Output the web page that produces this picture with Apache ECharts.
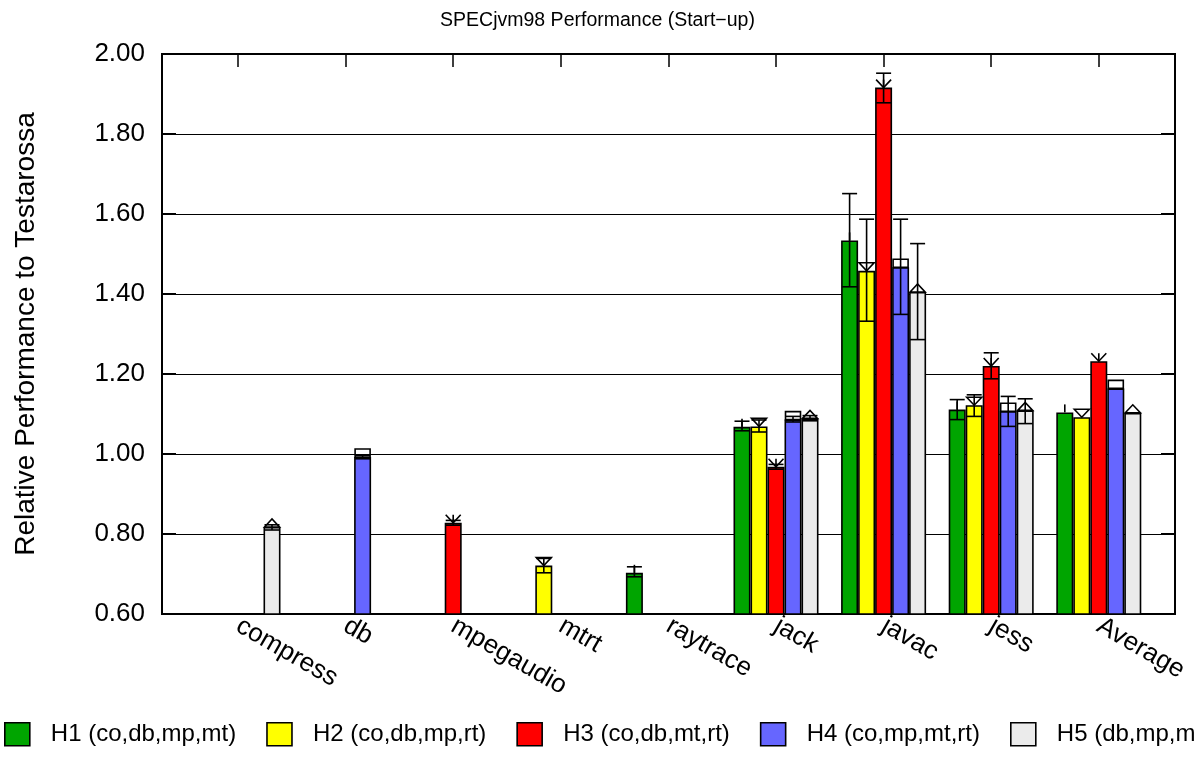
<!DOCTYPE html>
<html>
<head>
<meta charset="utf-8">
<script src="https://cdn.jsdelivr.net/npm/echarts@6/dist/echarts.min.js"></script>
<style>
html,body{margin:0;padding:0;background:#fff;}
#chart{width:1195px;height:758px;}
</style>
</head>
<body>
<div id="chart"></div>
<script>
var categories = ['compress','db','mpegaudio','mtrt','raytrace','jack','javac','jess','Average'];
var seriesNames = ['H1 (co,db,mp,mt)','H2 (co,db,mp,rt)','H3 (co,db,mt,rt)','H4 (co,mp,mt,rt)','H5 (db,mp,mt,rt)'];
var seriesColors = ['#00a500','#ffff00','#ff0000','#6666ff','#ebebeb'];
var yTicks = [0.6,0.8,1.0,1.2,1.4,1.6,1.8,2.0];

var h1   = [null,null,null,null,0.703,1.068,1.534,1.111,1.104];
var h1Lo = [null,null,null,null,0.693,1.058,1.418,1.086,null];
var h1Hi = [null,null,null,null,0.718,1.082,1.651,1.136,null];

var h2   = [null,null,null,0.721,null,1.069,1.458,1.122,1.092];
var h2Lo = [null,null,null,0.703,null,1.055,1.332,1.094,null];
var h2Hi = [null,null,null,0.739,null,1.085,1.587,1.148,null];

var h3   = [null,null,0.828,null,null,0.968,1.916,1.220,1.232];
var h3Lo = [null,null,0.822,null,null,0.962,1.878,1.188,null];
var h3Hi = [null,null,0.834,null,null,0.974,1.952,1.253,null];

var h4   = [null,0.9925,null,null,null,1.086,1.467,1.107,1.164];
var h4Lo = [null,0.988,null,null,null,1.080,1.349,1.069,null];
var h4Hi = [null,0.997,null,null,null,1.094,1.587,1.144,null];

var h5   = [0.8175,null,null,null,null,1.089,1.405,1.109,1.103];
var h5Lo = [0.810,null,null,null,null,1.083,1.286,1.076,null];
var h5Hi = [0.823,null,null,null,null,1.096,1.526,1.138,null];

var values = [h1,h2,h3,h4,h5];
var lows = [h1Lo,h2Lo,h3Lo,h4Lo,h5Lo];
var highs = [h1Hi,h2Hi,h3Hi,h4Hi,h5Hi];

var BAR_FRAC = 0.158;
var FONT = '"Liberation Sans", Arial, Helvetica, sans-serif';
var LW = 1.6;

function markerShapes(s, x, y){
  var w = 7.5, h = 8;
  var st = {stroke:'#000', lineWidth:LW, fill:null};
  if (s === 0) return [{type:'line', shape:{x1:x,y1:y,x2:x,y2:y-h}, style:st}];
  if (s === 1) return [{type:'polygon', shape:{points:[[x-w,y-h],[x+w,y-h],[x,y]]}, style:{stroke:'#000',lineWidth:LW,fill:'none'}}];
  if (s === 2) return [
    {type:'polyline', shape:{points:[[x-w,y-h],[x,y],[x+w,y-h]]}, style:{stroke:'#000',lineWidth:LW,fill:'none'}},
    {type:'line', shape:{x1:x,y1:y,x2:x,y2:y-h}, style:st}];
  if (s === 3) return [{type:'rect', shape:{x:x-w,y:y-h,width:2*w,height:h}, style:{stroke:'#000',lineWidth:LW,fill:'none'}}];
  return [{type:'polygon', shape:{points:[[x-w,y],[x,y-h],[x+w,y]]}, style:{stroke:'#000',lineWidth:LW,fill:'none'}}];
}

function makeRender(s){
  return function(params, api){
    var idx = api.value(0);
    var c = api.coord([idx, api.value(1)]);
    var band = api.size([1,0])[0];
    var x = c[0] + (s-2)*BAR_FRAC*band;
    var children = markerShapes(s, x, c[1]);
    var lo = api.value(2), hi = api.value(3);
    if (lo != null && !isNaN(lo) && hi != null && !isNaN(hi)) {
      var yl = api.coord([idx, lo])[1];
      var yh = api.coord([idx, hi])[1];
      var cw = 7.5;
      var st = {stroke:'#000', lineWidth:LW};
      children.push({type:'line', shape:{x1:x,y1:yl,x2:x,y2:yh}, style:st});
      children.push({type:'line', shape:{x1:x-cw,y1:yl,x2:x+cw,y2:yl}, style:st});
      children.push({type:'line', shape:{x1:x-cw,y1:yh,x2:x+cw,y2:yh}, style:st});
    }
    return {type:'group', children:children};
  };
}

var series = [];
for (var s=0; s<5; s++){
  series.push({
    name: seriesNames[s], type:'bar', xAxisIndex:1, yAxisIndex:2,
    data: values[s], barWidth: (BAR_FRAC*100)+'%', barGap:'0%',
    itemStyle:{color:seriesColors[s], borderColor:'#000', borderWidth:LW},
    emphasis:{disabled:true}, z:3
  });
}
for (var s2=0; s2<5; s2++){
  var d = [];
  for (var i=0;i<categories.length;i++){
    if (values[s2][i] != null) d.push([i, values[s2][i], lows[s2][i], highs[s2][i]]);
  }
  series.push({
    name:'err'+s2, type:'custom', xAxisIndex:1, yAxisIndex:2,
    renderItem: makeRender(s2), data:d, z:5, silent:true,
    encode:{x:0,y:1}
  });
}

var chart = echarts.init(document.getElementById('chart'), null, {renderer:'canvas'});
chart.setOption({
  animation:false,
  backgroundColor:'#fff',
  textStyle:{fontFamily:FONT, color:'#000'},
  title:{text:'SPECjvm98 Performance (Start\u2212up)', left:'center', top:6,
    textStyle:{fontFamily:FONT, fontSize:19.5, fontWeight:'normal', color:'#000'}},
  legend:{data:seriesNames, left:4, top:722, width:1600, padding:0, itemWidth:25, itemHeight:23, itemGap:30,
    icon:'rect', selectedMode:false,
    itemStyle:{borderColor:'#000', borderWidth:LW},
    textStyle:{fontFamily:FONT, fontSize:24, color:'#000', padding:[0,0,0,16]}},
  grid:[
    {left:162, right:20, top:54, bottom:144, show:true, borderColor:'#000', borderWidth:2, backgroundColor:'transparent'},
    {left:184.2, right:42.4, top:54, bottom:144}
  ],
  xAxis:[
    {type:'value', gridIndex:0, min:0, max:1, show:false},
    {type:'category', gridIndex:1, data:categories, position:'bottom',
      axisLine:{show:false}, axisTick:{show:false},
      axisLabel:{rotate:-30, margin:10, fontFamily:FONT, fontSize:26, color:'#000', interval:0}},
    {type:'category', gridIndex:1, data:categories, position:'top',
      axisLine:{show:false}, axisTick:{show:true, inside:true, alignWithLabel:true, length:13, lineStyle:{color:'#000', width:1.5}},
      axisLabel:{show:false}}
  ],
  yAxis:[
    {type:'value', gridIndex:0, min:yTicks[0], max:yTicks[yTicks.length-1], interval:0.2,
      name:'Relative Performance to Testarossa', nameLocation:'middle', nameGap:122,
      nameTextStyle:{fontFamily:FONT, fontSize:28, color:'#000'},
      axisLine:{show:true, lineStyle:{color:'#000', width:2}},
      axisTick:{show:true, inside:true, length:14, lineStyle:{color:'#000', width:2}},
      axisLabel:{margin:17, fontFamily:FONT, fontSize:26, color:'#000', formatter:function(v){return v.toFixed(2);}},
      splitLine:{show:true, lineStyle:{color:'#000', width:1.2}}},
    {type:'value', gridIndex:0, position:'right', min:yTicks[0], max:yTicks[yTicks.length-1], interval:0.2,
      axisLine:{show:true, lineStyle:{color:'#000', width:2}},
      axisTick:{show:true, inside:true, length:14, lineStyle:{color:'#000', width:2}},
      axisLabel:{show:false}, splitLine:{show:false}},
    {type:'value', gridIndex:1, min:yTicks[0], max:yTicks[yTicks.length-1], interval:0.2, show:false, splitLine:{show:false}}
  ],
  series: series
});
</script>
</body>
</html>
